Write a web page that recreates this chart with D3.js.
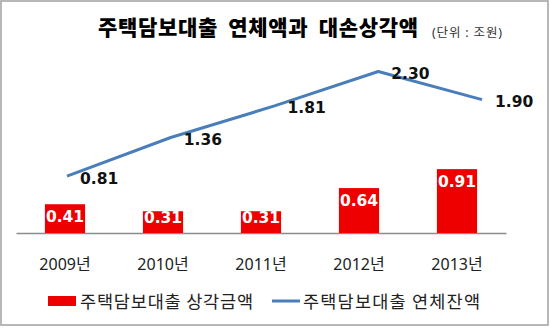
<!DOCTYPE html>
<html><head><meta charset="utf-8">
<script src="https://cdn.jsdelivr.net/npm/d3@7"></script>
<style>html,body{margin:0;padding:0;background:#fff;}svg{display:block;}</style>
</head><body>
<script>
const years = ["2009년","2010년","2011년","2012년","2013년"];
const writeOff = [0.41,0.31,0.31,0.64,0.91];     // 주택담보대출 상각금액 (bars)
const overdue = [0.81,1.36,1.81,2.30,1.90];      // 주택담보대출 연체잔액 (line)
const seriesNames = ["주택담보대출 상각금액","주택담보대출 연체잔액"];
const title = "주택담보대출 연체액과 대손상각액";
const unit = "(단위 : 조원)";

const W = 550, H = 330;
const svg = d3.select("body").append("svg").attr("width", W).attr("height", H);

svg.append("rect").attr("x",1).attr("y",1).attr("width",547).attr("height",324)
  .attr("fill","#fff").attr("stroke","#a6a6a6").attr("stroke-width",1.6);

const numFont = "'DejaVu Sans', sans-serif";
const krFont = "'Noto Sans CJK KR', sans-serif";

svg.append("text").attr("x",98).attr("y",35)
  .attr("font-family",krFont).attr("font-weight",900).attr("font-size",21)
  .attr("textLength",320).attr("lengthAdjust","spacing")
  .attr("word-spacing","5px").attr("fill","#000").text(title);
svg.append("text").attr("x",432).attr("y",37)
  .attr("font-family","'Noto Sans', 'Noto Sans CJK KR', sans-serif").attr("font-size",12.5)
  .attr("textLength",70).attr("lengthAdjust","spacing")
  .attr("fill","#333").text(unit);

const y = d3.scaleLinear().domain([0, 2.5]).range([233, 233 - 2.5*70.2]);
const xBar = d3.scaleBand().domain(years).range([16,506]).paddingInner(0.59).paddingOuter(0.295);
const xLine = d3.scalePoint().domain(years).range([67,482]);

// axis baseline + category labels
const axis = d3.axisBottom(xBar).tickSize(0).tickPadding(0);
const ag = svg.append("g").attr("transform","translate(0,233)").call(axis);
ag.select(".domain").attr("stroke","#8c8c8c").attr("stroke-width",1.3);
ag.selectAll(".tick text").attr("y",37).attr("dy",0)
  .attr("font-family","'Noto Sans', 'Noto Sans CJK KR', sans-serif")
  .attr("font-size",16).attr("fill","#222");

// bars
svg.selectAll("rect.bar").data(writeOff).join("rect").attr("class","bar")
  .attr("x",(d,i)=>xBar(years[i])).attr("width",xBar.bandwidth())
  .attr("y",d=>y(d)).attr("height",d=>y(0)-y(d)).attr("fill","#ee0000");
svg.selectAll("text.blab").data(writeOff).join("text").attr("class","blab")
  .attr("x",(d,i)=>xBar(years[i])+xBar.bandwidth()/2)
  .attr("y",d=>Math.min(y(d)+18, y(0)-10))
  .attr("text-anchor","middle").attr("font-family",numFont).attr("font-weight","bold")
  .attr("font-size",15.5).attr("fill","#fff").text(d=>d.toFixed(2));

// line
const line = d3.line().x((d,i)=>xLine(years[i])).y(d=>y(d));
svg.append("path").datum(overdue).attr("d",line).attr("fill","none")
  .attr("stroke","#4a7ebb").attr("stroke-width",3).attr("stroke-linejoin","round");
svg.selectAll("text.llab").data(overdue).join("text").attr("class","llab")
  .attr("x",(d,i)=>xLine(years[i])+13).attr("y",d=>y(d)+7.5)
  .attr("font-family",numFont).attr("font-weight","bold")
  .attr("font-size",15.5).attr("fill","#111").text(d=>d.toFixed(2));

// legend
const lg = svg.append("g");
lg.append("rect").attr("x",48).attr("y",296).attr("width",28).attr("height",10).attr("fill","#ee0000");
lg.append("text").attr("x",80).attr("y",308).attr("font-family",krFont).attr("font-size",17.5)
  .attr("textLength",173).attr("lengthAdjust","spacing")
  .attr("fill","#222").text(seriesNames[0]);
lg.append("line").attr("x1",272).attr("x2",300).attr("y1",301).attr("y2",301)
  .attr("stroke","#4a7ebb").attr("stroke-width",3);
lg.append("text").attr("x",303).attr("y",308).attr("font-family",krFont).attr("font-size",17.5)
  .attr("textLength",177).attr("lengthAdjust","spacing")
  .attr("fill","#222").text(seriesNames[1]);
</script>
</body></html>
